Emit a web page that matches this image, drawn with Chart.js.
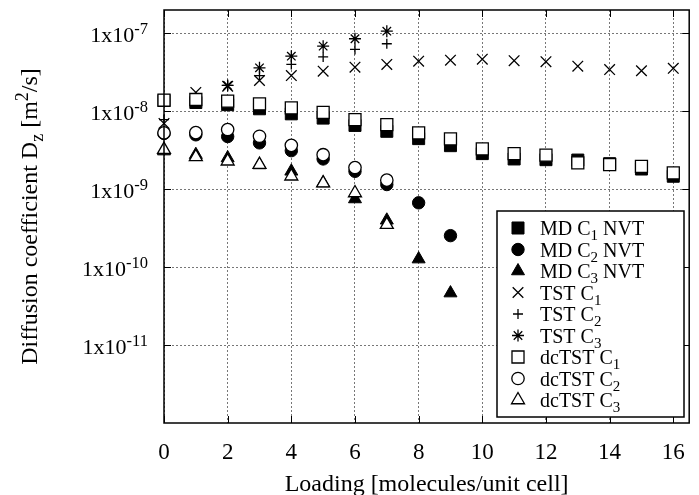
<!DOCTYPE html>
<html>
<head>
<meta charset="utf-8">
<script src="https://cdn.jsdelivr.net/npm/chart.js@4.4.0/dist/chart.umd.min.js"></script>
<style>
  body { margin: 0; background: #fff; }
</style>
</head>
<body>
<canvas id="chart" width="699" height="495"></canvas>
<script>
// loading values (molecules/unit cell)
const loading = [0, 1, 2, 3, 4, 5, 6, 7, 8, 9, 10, 11, 12, 13, 14, 15, 16];

// diffusion coefficients (m^2/s)
const mdC1 = [1.38e-8, 1.30e-8, 1.22e-8, 1.08e-8, 9.3e-9, 8.2e-9, 6.6e-9, 5.55e-9, 4.47e-9, 3.63e-9,
              2.87e-9, 2.45e-9, 2.40e-9, 2.37e-9, 2.13e-9, 1.82e-9, 1.47e-9];
const mdC2 = [5.2e-9, 5.0e-9, 4.75e-9, 3.94e-9, 3.13e-9, 2.45e-9, 1.70e-9, 1.15e-9, 6.7e-10, 2.54e-10];
const mdC3 = [3.09e-9, 2.78e-9, 2.52e-9, 2.05e-9, 1.70e-9, 1.20e-9, 7.5e-10, 4.0e-10, 1.27e-10, 4.65e-11];
const tstC1 = [7.0e-9, 1.75e-8, 2.1e-8, 2.49e-8, 2.88e-8, 3.28e-8, 3.69e-8, 4.0e-8, 4.41e-8, 4.54e-8,
               4.67e-8, 4.47e-8, 4.34e-8, 3.80e-8, 3.44e-8, 3.32e-8, 3.57e-8];
const tstC2 = [7.85e-9, null, 2.15e-8, 2.88e-8, 4.0e-8, 5.0e-8, 6.23e-8, 7.38e-8];
const tstC3 = [null, null, 2.15e-8, 3.62e-8, 5.11e-8, 6.87e-8, 8.55e-8, 1.07e-7];
const dcC1 = [1.39e-8, 1.42e-8, 1.35e-8, 1.25e-8, 1.11e-8, 9.7e-9, 7.85e-9, 6.77e-9, 5.29e-9, 4.43e-9,
              3.30e-9, 2.87e-9, 2.74e-9, 2.18e-9, 2.07e-9, 1.97e-9, 1.62e-9];
const dcC2 = [5.29e-9, 5.34e-9, 5.84e-9, 4.79e-9, 3.66e-9, 2.78e-9, 1.90e-9, 1.31e-9];
const dcC3 = [3.23e-9, 2.60e-9, 2.29e-9, 2.07e-9, 1.47e-9, 1.20e-9, 8.96e-10, 3.51e-10];

const xTicks = [0, 2, 4, 6, 8, 10, 12, 14, 16];
const yTicks = [1e-7, 1e-8, 1e-9, 1e-10, 1e-11];

const FONT = '"Liberation Serif", "Times New Roman", serif';

function pts(vals) {
  return vals.map((v, i) => ({ x: loading[i], y: v })).filter(p => p.y !== null);
}

function filled(label, legend, vals, style, r) {
  return { label, legend, data: pts(vals), pointStyle: style, pointRadius: r,
    backgroundColor: '#000', borderColor: '#000', borderWidth: 1, order: 2, clip: false };
}
function open(label, legend, vals, style, r, order) {
  return { label, legend, data: pts(vals), pointStyle: style, pointRadius: r,
    backgroundColor: '#fff', borderColor: '#000', borderWidth: 1.3, order, clip: false };
}

const datasets = [
  filled('MD C1 NVT', [['MD C', 0], ['1', 1], [' NVT', 0]], mdC1, 'rect', 8.5),
  filled('MD C2 NVT', [['MD C', 0], ['2', 1], [' NVT', 0]], mdC2, 'circle', 6.2),
  filled('MD C3 NVT', [['MD C', 0], ['3', 1], [' NVT', 0]], mdC3, 'triangle', 7.5),
  open('TST C1', [['TST C', 0], ['1', 1]], tstC1, 'crossRot', 7.5, 1),
  open('TST C2', [['TST C', 0], ['2', 1]], tstC2, 'cross', 5, 1),
  open('TST C3', [['TST C', 0], ['3', 1]], tstC3, 'star', 6, 1),
  open('dcTST C1', [['dcTST C', 0], ['1', 1]], dcC1, 'rect', 8.5, 0),
  open('dcTST C2', [['dcTST C', 0], ['2', 1]], dcC2, 'circle', 6.2, 0),
  open('dcTST C3', [['dcTST C', 0], ['3', 1]], dcC3, 'triangle', 7.5, 0)
];

// text with sub/superscripts: mode 0 normal, 1 sub, 2 sup
function richWidth(ctx, parts, size) {
  let w = 0;
  parts.forEach(([t, m]) => {
    ctx.font = (m ? size * 0.75 : size) + 'px ' + FONT;
    w += ctx.measureText(t).width;
  });
  return w;
}
function drawRich(ctx, parts, x, y, size, align) {
  let w = richWidth(ctx, parts, size);
  let cx = align === 'right' ? x - w : align === 'center' ? x - w / 2 : x;
  ctx.textAlign = 'left';
  ctx.textBaseline = 'alphabetic';
  parts.forEach(([t, m]) => {
    ctx.font = (m ? size * 0.75 : size) + 'px ' + FONT;
    let dy = m === 1 ? size * 0.25 : m === 2 ? -size * 0.38 : 0;
    ctx.fillText(t, cx, y + dy);
    cx += ctx.measureText(t).width;
  });
}

const framePlugin = {
  id: 'frame',
  afterDatasetsDraw(chart) {
    const ctx = chart.ctx;
    const a = chart.chartArea;
    const xs = chart.scales.x, ys = chart.scales.y;
    ctx.save();
    ctx.fillStyle = '#000';
    ctx.strokeStyle = '#000';

    // inward ticks
    ctx.lineWidth = 1;
    ctx.beginPath();
    yTicks.forEach(v => {
      const py = Math.round(ys.getPixelForValue(v)) + 0.5;
      ctx.moveTo(a.left, py); ctx.lineTo(a.left + 7, py);
      ctx.moveTo(a.right, py); ctx.lineTo(a.right - 7, py);
    });
    xTicks.forEach(v => {
      const px = Math.round(xs.getPixelForValue(v)) + 0.5;
      ctx.moveTo(px, a.bottom); ctx.lineTo(px, a.bottom - 7);
      ctx.moveTo(px, a.top); ctx.lineTo(px, a.top + 7);
    });
    ctx.stroke();

    // frame
    ctx.lineWidth = 1.5;
    ctx.strokeRect(a.left, a.top, a.right - a.left, a.bottom - a.top);

    // y tick labels
    yTicks.forEach(v => {
      const py = ys.getPixelForValue(v);
      const e = Math.round(Math.log10(v));
      drawRich(ctx, [['1x10', 0], ['-' + Math.abs(e), 2]], 148, py + 9, 22, 'right');
    });
    // x tick labels
    xTicks.forEach(v => {
      drawRich(ctx, [[String(v), 0]], xs.getPixelForValue(v), 459, 23, 'center');
    });

    // axis titles
    drawRich(ctx, [['Loading [molecules/unit cell]', 0]], (a.left + a.right) / 2, 491, 24, 'center');
    ctx.save();
    ctx.translate(37, (a.top + a.bottom) / 2);
    ctx.rotate(-Math.PI / 2);
    drawRich(ctx, [['Diffusion coefficient D', 0], ['z', 1], [' [m', 0], ['2', 2], ['/s]', 0]], 0, 0, 24, 'center');
    ctx.restore();

    // legend
    const bx = 497, by = 211, bw = 187, bh = 206;
    ctx.fillStyle = '#fff';
    ctx.fillRect(bx, by, bw, bh);
    ctx.lineWidth = 1.5;
    ctx.strokeRect(bx, by, bw, bh);
    chart.data.datasets.forEach((ds, i) => {
      const cy = 228 + i * 21.5;
      ctx.fillStyle = ds.backgroundColor;
      ctx.strokeStyle = ds.borderColor;
      ctx.lineWidth = ds.borderWidth;
      Chart.helpers.drawPoint(ctx, { pointStyle: ds.pointStyle, radius: ds.pointRadius,
        rotation: 0, borderWidth: ds.borderWidth }, 518, cy);
      ctx.fillStyle = '#000';
      drawRich(ctx, ds.legend, 540, cy + 7, 20, 'left');
    });
    ctx.restore();
  }
};

new Chart(document.getElementById('chart'), {
  type: 'scatter',
  data: { datasets },
  options: {
    responsive: false,
    animation: false,
    layout: { padding: { top: 10, right: 1, left: 0, bottom: 0 } },
    plugins: { legend: { display: false }, tooltip: { enabled: false } },
    scales: {
      x: {
        type: 'linear', min: 0, max: 16.5,
        afterBuildTicks: s => { s.ticks = xTicks.map(v => ({ value: v })); },
        afterFit: s => { s.height = 72; },
        ticks: { display: false },
        grid: { color: '#777', lineWidth: 1, drawTicks: false },
        border: { display: false, dash: [2, 2] }
      },
      y: {
        type: 'logarithmic', min: 1e-12, max: 2e-7,
        afterBuildTicks: s => { s.ticks = yTicks.map(v => ({ value: v })); },
        afterFit: s => { s.width = 164; },
        ticks: { display: false },
        grid: { color: '#777', lineWidth: 1, drawTicks: false },
        border: { display: false, dash: [2, 2] }
      }
    }
  },
  plugins: [framePlugin]
});
</script>
</body>
</html>
